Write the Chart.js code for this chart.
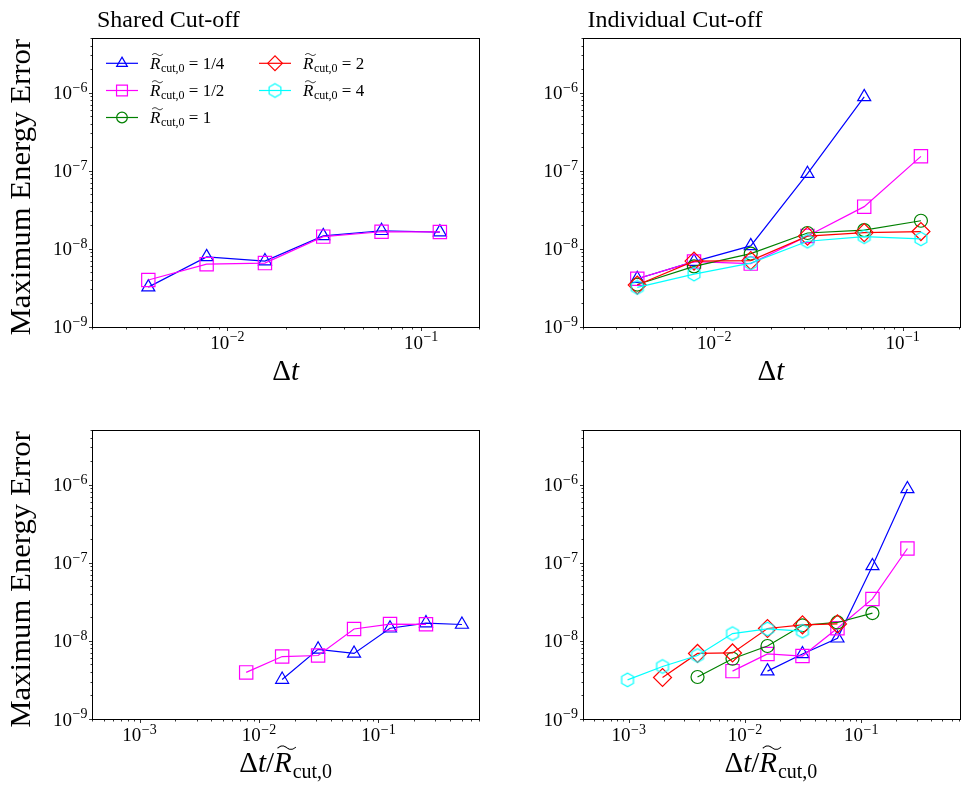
<!DOCTYPE html>
<html><head><meta charset="utf-8">
<script src="https://cdn.jsdelivr.net/npm/chart.js@4.4.0/dist/chart.umd.min.js"></script>
<style>
html,body{margin:0;padding:0;background:#fff}
body{width:970px;height:790px;overflow:hidden;position:relative}
.p{position:absolute}
canvas{display:block}
</style></head><body>
<div class="p" style="left:0;top:0"><canvas id="c0" width="490" height="395"></canvas></div>
<div class="p" style="left:490px;top:0"><canvas id="c1" width="480" height="395"></canvas></div>
<div class="p" style="left:0;top:395px"><canvas id="c2" width="490" height="395"></canvas></div>
<div class="p" style="left:490px;top:395px"><canvas id="c3" width="480" height="395"></canvas></div>
<script>
// ---------------- data ----------------
const dt = [1/256, 1/128, 1/64, 1/32, 1/16, 1/8];
const cutoffs = [0.25, 0.5, 1, 2, 4];
const cutoffLabels = ['1/4', '1/2', '1', '2', '4'];

// shared cut-off (only R=1/4 and R=1/2)
const sharedQuarter = [3.2e-9, 7.8e-9, 6.9e-9, 1.45e-8, 1.69e-8, 1.62e-8];
const sharedHalf    = [3.95e-9, 6.3e-9, 6.5e-9, 1.42e-8, 1.64e-8, 1.63e-8];

// individual cut-off
const indQuarter = [4.1e-9, 6.8e-9, 1.08e-8, 9.1e-8, 8.8e-7];
const indHalf    = [4.1e-9, 6.8e-9, 6.4e-9, 1.45e-8, 3.44e-8, 1.52e-7];
const indOne     = [3.45e-9, 5.9e-9, 8.6e-9, 1.58e-8, 1.72e-8, 2.27e-8];
const indTwo     = [3.4e-9, 6.9e-9, 7.0e-9, 1.44e-8, 1.6e-8, 1.65e-8];
const indFour    = [3.17e-9, 4.7e-9, 6.5e-9, 1.24e-8, 1.42e-8, 1.33e-8];

const yTickExps = [-9, -8, -7, -6];
const xTickExpsTop = [-2, -1];
const xTickExpsBottom = [-3, -2, -1];

// ---------------- styles ----------------
const SERIF = '"Liberation Serif","DejaVu Serif",serif';
const colors = ['#0000ff', '#ff00ff', '#008000', '#ff0000', '#00ffff'];

function makeHex(color) {
  const c = document.createElement('canvas');
  c.width = 18; c.height = 18;
  const g = c.getContext('2d');
  g.strokeStyle = color; g.lineWidth = 1.2;
  g.beginPath();
  for (let k = 0; k < 6; k++) {
    const a = -Math.PI / 2 + k * Math.PI / 3;
    const px = 9 + 6.8 * Math.cos(a), py = 9 + 6.8 * Math.sin(a);
    if (k === 0) g.moveTo(px, py); else g.lineTo(px, py);
  }
  g.closePath(); g.stroke();
  return c;
}
const hexCanvas = makeHex(colors[4]);
const pointStyles = ['triangle', 'rect', 'circle', 'rectRot', hexCanvas];
const pointRadii = [7.5, 9.4, 6.5, 9, 7];

function pts(xs, ys) { return ys.map((y, i) => ({ x: xs[i], y: y })); }
function ds(idx, xs, ys) {
  return {
    data: pts(xs, ys),
    borderColor: colors[idx],
    backgroundColor: 'rgba(0,0,0,0)',
    borderWidth: 1.2,
    pointStyle: pointStyles[idx],
    pointRadius: pointRadii[idx],
    pointHoverRadius: pointRadii[idx],
    pointBorderColor: colors[idx],
    pointBackgroundColor: 'rgba(0,0,0,0)',
    pointBorderWidth: 1.2,
    tension: 0,
    fill: false,
    order: 5 - idx,
    clip: false
  };
}

// ---------------- rich text helpers ----------------
function fontStr(p) { return (p.italic ? 'italic ' : '') + p.size + 'px ' + SERIF; }
function richWidth(ctx, parts) {
  let w = 0;
  for (const p of parts) { ctx.font = fontStr(p); w += ctx.measureText(p.t).width + (p.kern || 0); }
  return w;
}
function drawTilde(ctx, x0, x1, yc, amp) {
  ctx.save();
  ctx.strokeStyle = '#000';
  ctx.lineWidth = Math.max(0.9, amp * 0.5);
  ctx.beginPath();
  const n = 24;
  for (let i = 0; i <= n; i++) {
    const t = i / n;
    const px = x0 + (x1 - x0) * t;
    const py = yc - amp * Math.sin(2 * Math.PI * t) - amp * 0.6 * (t - 0.5);
    if (i === 0) ctx.moveTo(px, py); else ctx.lineTo(px, py);
  }
  ctx.stroke();
  ctx.restore();
}
function drawRich(ctx, parts, x, y, align) {
  const w = richWidth(ctx, parts);
  if (align === 'center') x -= w / 2;
  else if (align === 'right') x -= w;
  ctx.textAlign = 'left';
  ctx.textBaseline = 'alphabetic';
  for (const p of parts) {
    ctx.font = fontStr(p);
    const pw = ctx.measureText(p.t).width;
    ctx.fillText(p.t, x, y + (p.dy || 0));
    if (p.tilde) {
      const s = p.size;
      drawTilde(ctx, x + 0.12 * s, x + pw + 0.14 * s, y - 0.84 * s, 0.07 * s);
    }
    x += pw + (p.kern || 0);
  }
}
function rCutParts(size) {
  return [
    { t: 'R', size: size, italic: true, tilde: true, kern: size * 0.03 },
    { t: 'cut,0', size: Math.round(size * 0.7), dy: size * 0.2 }
  ];
}
function powParts(e) {
  return [{ t: '10', size: 19, kern: 0.5 }, { t: '\u2212' + (-e), size: 14, dy: -7.5 }];
}

// ---------------- marker for legend ----------------
function drawMarker(ctx, idx, x, y, r) {
  const st = pointStyles[idx];
  ctx.save();
  ctx.strokeStyle = colors[idx];
  ctx.lineWidth = 1.2;
  if (typeof st !== 'string') { ctx.drawImage(st, x - st.width / 2, y - st.height / 2); ctx.restore(); return; }
  ctx.beginPath();
  if (st === 'triangle') {
    let a = 0;
    ctx.moveTo(x + Math.sin(a) * r, y - Math.cos(a) * r);
    a += 2 * Math.PI / 3; ctx.lineTo(x + Math.sin(a) * r, y - Math.cos(a) * r);
    a += 2 * Math.PI / 3; ctx.lineTo(x + Math.sin(a) * r, y - Math.cos(a) * r);
    ctx.closePath();
  } else if (st === 'rect') {
    const s = Math.SQRT1_2 * r; ctx.rect(x - s, y - s, 2 * s, 2 * s);
  } else if (st === 'circle') {
    ctx.arc(x, y, r, 0, 2 * Math.PI);
  } else if (st === 'rectRot') {
    ctx.moveTo(x - r, y); ctx.lineTo(x, y - r); ctx.lineTo(x + r, y); ctx.lineTo(x, y + r); ctx.closePath();
  }
  ctx.stroke();
  ctx.restore();
}

// ---------------- decoration plugin ----------------
function logTicks(min, max) {
  const out = [];
  for (let e = Math.floor(Math.log10(min)) - 1; e <= Math.ceil(Math.log10(max)); e++) {
    for (let m = 1; m <= 9; m++) {
      const v = m * Math.pow(10, e);
      if (v >= min * 0.9999 && v <= max * 1.0001) out.push({ v: v, major: m === 1 });
    }
  }
  return out;
}
const decorPlugin = {
  id: 'decor',
  afterDraw(chart, args, o) {
    const ctx = chart.ctx, a = chart.chartArea;
    const xs = chart.scales.x, ys = chart.scales.y;
    ctx.save();
    // frame
    ctx.strokeStyle = '#000'; ctx.lineWidth = 1;
    ctx.strokeRect(Math.round(a.left) + 0.5, Math.round(a.top) + 0.5, Math.round(a.right - a.left), Math.round(a.bottom - a.top));
    // ticks
    ctx.lineWidth = 0.8;
    ctx.beginPath();
    for (const t of logTicks(xs.min, xs.max)) {
      const px = Math.round(xs.getPixelForValue(t.v)) + 0.5;
      const L = t.major ? 3.5 : 2;
      ctx.moveTo(px, Math.round(a.bottom) + 0.5); ctx.lineTo(px, Math.round(a.bottom) + 0.5 + L);
    }
    for (const t of logTicks(ys.min, ys.max)) {
      const py = Math.round(ys.getPixelForValue(t.v)) + 0.5;
      const L = t.major ? 3.5 : 2;
      ctx.moveTo(Math.round(a.left) + 0.5, py); ctx.lineTo(Math.round(a.left) + 0.5 - L, py);
    }
    ctx.stroke();
    // tick labels
    ctx.fillStyle = '#000';
    for (const e of o.xExps) {
      const px = xs.getPixelForValue(Math.pow(10, e));
      drawRich(ctx, powParts(e), px, a.bottom + 22, 'center');
    }
    for (const e of yTickExps) {
      const py = ys.getPixelForValue(Math.pow(10, e));
      drawRich(ctx, powParts(e), a.left - 4.5, py + 6.5, 'right');
    }
    // panel title
    if (o.title) {
      ctx.font = '24px ' + SERIF; ctx.textAlign = 'left'; ctx.textBaseline = 'alphabetic';
      ctx.fillText(o.title, a.left + 5, 26.5);
    }
    // x title
    const cx = (a.left + a.right) / 2;
    if (o.xTitle === 'dt') {
      drawRich(ctx, [{ t: '\u0394', size: 29 }, { t: 't', size: 29, italic: true }], cx, a.bottom + 53, 'center');
    } else {
      drawRich(ctx, [{ t: '\u0394', size: 29 }, { t: 't', size: 29, italic: true }, { t: '/', size: 29 }].concat(rCutParts(29)), cx, a.bottom + 53, 'center');
    }
    // y title
    if (o.yTitle) {
      ctx.save();
      ctx.translate(30, (a.top + a.bottom) / 2 + 5);
      ctx.rotate(-Math.PI / 2);
      ctx.scale(1.06, 1);
      ctx.font = '29px ' + SERIF; ctx.textAlign = 'center'; ctx.textBaseline = 'alphabetic';
      ctx.fillText('Maximum Energy Error', 0, 0);
      ctx.restore();
    }
    // legend
    if (o.legend) {
      const rows = [63.3, 90.5, 117.5];
      const cols = [{ l0: 106, l1: 138, m: 122, t: 150 }, { l0: 259, l1: 291, m: 275, t: 303 }];
      for (let i = 0; i < cutoffLabels.length; i++) {
        const col = cols[i < 3 ? 0 : 1], y = rows[i < 3 ? i : i - 3];
        ctx.strokeStyle = colors[i]; ctx.lineWidth = 1.2;
        ctx.beginPath(); ctx.moveTo(col.l0, y); ctx.lineTo(col.l1, y); ctx.stroke();
        drawMarker(ctx, i, col.m, y, pointRadii[i] * 0.82);
        ctx.fillStyle = '#000';
        drawRich(ctx, rCutParts(17).concat([{ t: ' = ' + cutoffLabels[i], size: 17 }]), col.t, y + 5.5, 'left');
      }
    }
    ctx.restore();
  }
};

function makeChart(id, datasets, cfg) {
  return new Chart(document.getElementById(id), {
    type: 'line',
    data: { datasets: datasets },
    options: {
      responsive: false, animation: false, devicePixelRatio: 1, events: [],
      layout: { padding: { top: cfg.T, right: cfg.R, left: 0, bottom: 0 } },
      plugins: { legend: { display: false }, tooltip: { enabled: false }, title: { display: false },
        decor: { title: cfg.title, xTitle: cfg.xTitle, yTitle: cfg.yTitle, legend: cfg.legend, xExps: cfg.xExps } },
      scales: {
        x: { type: 'logarithmic', min: cfg.xmin, max: cfg.xmax, grid: { display: false }, border: { display: false },
             ticks: { display: false }, afterFit(s) { s.height = cfg.B; } },
        y: { type: 'logarithmic', min: 1e-9, max: 5e-6, grid: { display: false }, border: { display: false },
             ticks: { display: false }, afterFit(s) { s.width = cfg.L; } }
      }
    },
    plugins: [decorPlugin]
  });
}

const scaled = (R) => dt.map(v => v / R);

// top-left: shared cut-off vs dt
makeChart('c0', [ds(0, dt, sharedQuarter), ds(1, dt, sharedHalf)],
  { T: 38, R: 7.5, L: 92, B: 68.5, xmin: 0.002, xmax: 0.2, title: 'Shared Cut-off', xTitle: 'dt', yTitle: true, legend: true, xExps: xTickExpsTop });
// top-right: individual cut-off vs dt
makeChart('c1', [ds(0, dt, indQuarter), ds(1, dt, indHalf), ds(2, dt, indOne), ds(3, dt, indTwo), ds(4, dt, indFour)],
  { T: 38, R: 1, L: 92.5, B: 68.5, xmin: 0.002, xmax: 0.2, title: 'Individual Cut-off', xTitle: 'dt', yTitle: false, legend: false, xExps: xTickExpsTop });
// bottom-left: shared cut-off vs dt/R
makeChart('c2', [ds(0, scaled(cutoffs[0]), sharedQuarter), ds(1, scaled(cutoffs[1]), sharedHalf)],
  { T: 35, R: 7.5, L: 92, B: 71, xmin: 4e-4, xmax: 0.7, title: '', xTitle: 'dtR', yTitle: true, legend: false, xExps: xTickExpsBottom });
// bottom-right: individual cut-off vs dt/R
makeChart('c3', [ds(0, scaled(cutoffs[0]), indQuarter), ds(1, scaled(cutoffs[1]), indHalf), ds(2, scaled(cutoffs[2]), indOne),
                 ds(3, scaled(cutoffs[3]), indTwo), ds(4, scaled(cutoffs[4]), indFour)],
  { T: 35, R: 1, L: 92.5, B: 71, xmin: 4e-4, xmax: 0.7, title: '', xTitle: 'dtR', yTitle: false, legend: false, xExps: xTickExpsBottom });
</script>
</body></html>
